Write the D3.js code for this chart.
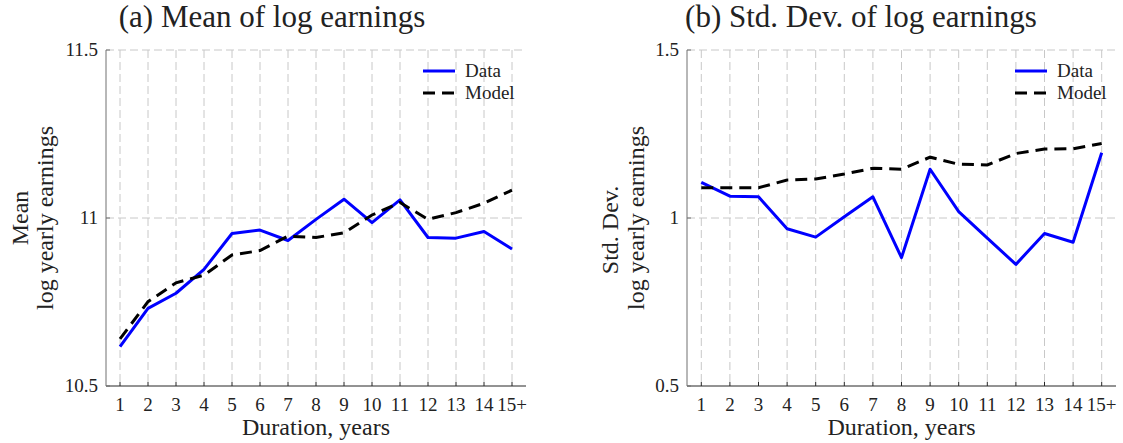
<!DOCTYPE html>
<html>
<head>
<meta charset="utf-8">
<script src="https://cdn.jsdelivr.net/npm/d3@7"></script>
<style>
  body { margin: 0; background: #fff; }
  svg { display: block; }
  svg text { font-family: "Liberation Serif", "Times New Roman", serif; fill: #222; }
  .grid line { stroke: #c8c8c8; stroke-width: 1; stroke-dasharray: 8,4; }
  .title { font-size: 31px; }
  .axis-label { font-size: 24px; }
  .tick-label { font-size: 19px; }
  .legend text { font-size: 19px; }
</style>
</head>
<body>
<div id="chart"></div>
<script>
// Duration categories (x axis)
const durations = ['1', '2', '3', '4', '5', '6', '7', '8', '9', '10', '11', '12', '13', '14', '15+'];

// Panel (a): mean of log earnings
const meanData  = [10.617, 10.731, 10.776, 10.847, 10.954, 10.964, 10.933, 10.996, 11.056, 10.986, 11.054, 10.942, 10.940, 10.960, 10.908];
const meanModel = [10.640, 10.751, 10.807, 10.830, 10.890, 10.903, 10.946, 10.942, 10.956, 11.009, 11.046, 10.996, 11.016, 11.044, 11.083];
const meanTicks = [10.5, 11, 11.5];

// Panel (b): std. dev. of log earnings
const sdData  = [1.106, 1.065, 1.063, 0.968, 0.943, 1.004, 1.063, 0.882, 1.145, 1.019, 0.940, 0.862, 0.954, 0.928, 1.194];
const sdModel = [1.090, 1.090, 1.090, 1.113, 1.116, 1.131, 1.148, 1.145, 1.181, 1.160, 1.158, 1.192, 1.205, 1.206, 1.222];
const sdTicks = [0.5, 1, 1.5];

const seriesNames = ['Data', 'Model'];

const CONFIG = {
  width: 1123,
  height: 443,
  top: 50,
  bottom: 386,
  tickLen: 4,
  lineWidth: 3,
  dash: '12,7',
  font: '"Liberation Serif", "Times New Roman", serif',
};

const svg = d3.select('#chart')
  .append('svg')
  .attr('width', CONFIG.width)
  .attr('height', CONFIG.height)
  .attr('font-family', CONFIG.font);

drawPanel({
  left: 106, right: 526,
  title: '(a) Mean of log earnings', titleX: 272,
  yLines: ['Mean', 'log yearly earnings'], yLabelX: [28, 53], yLabelY: [218, 218],
  domain: [10.5, 11.5], ticks: meanTicks, tickFormat: d3.format('~g'),
  data: meanData, model: meanModel,
  legendX: 423,
});

drawPanel({
  left: 687, right: 1116,
  title: '(b) Std. Dev. of log earnings', titleX: 861,
  yLines: ['Std. Dev.', 'log yearly earnings'], yLabelX: [618, 644], yLabelY: [230, 218],
  domain: [0.5, 1.5], ticks: sdTicks, tickFormat: d3.format('~g'),
  data: sdData, model: sdModel,
  legendX: 1015,
});

function drawPanel(p) {
  const g = svg.append('g');

  const x = d3.scalePoint()
    .domain(durations)
    .range([p.left, p.right])
    .padding(0.5);

  const y = d3.scaleLinear()
    .domain(p.domain)
    .range([CONFIG.bottom, CONFIG.top]);

  // Grid
  const grid = g.append('g').attr('class', 'grid');
  grid.selectAll('.vgrid')
    .data(durations)
    .join('line')
    .attr('x1', d => x(d)).attr('x2', d => x(d))
    .attr('y1', CONFIG.top).attr('y2', CONFIG.bottom);
  grid.selectAll('.hgrid')
    .data(p.ticks.slice(1))
    .join('line')
    .attr('x1', p.left).attr('x2', p.right)
    .attr('y1', d => y(d)).attr('y2', d => y(d));

  // Lines
  const line = d3.line()
    .x((d, i) => x(durations[i]))
    .y(d => y(d));

  g.append('path')
    .datum(p.data)
    .attr('fill', 'none')
    .attr('stroke', '#0000ff')
    .attr('stroke-width', CONFIG.lineWidth)
    .attr('stroke-linejoin', 'round')
    .attr('d', line);

  g.append('path')
    .datum(p.model)
    .attr('fill', 'none')
    .attr('stroke', '#000')
    .attr('stroke-width', CONFIG.lineWidth)
    .attr('stroke-dasharray', CONFIG.dash)
    .attr('d', line);

  // Axes (ticks pointing inward, MATLAB style)
  const xAxis = g.append('g');
  xAxis.append('line')
    .attr('x1', p.left).attr('x2', p.right)
    .attr('y1', CONFIG.bottom).attr('y2', CONFIG.bottom)
    .attr('stroke', '#262626');
  xAxis.selectAll('.xtick')
    .data(durations)
    .join('line')
    .attr('x1', d => x(d)).attr('x2', d => x(d))
    .attr('y1', CONFIG.bottom).attr('y2', CONFIG.bottom - CONFIG.tickLen)
    .attr('stroke', '#262626');
  xAxis.selectAll('.xlabel')
    .data(durations)
    .join('text')
    .attr('class', 'tick-label')
    .attr('x', d => x(d))
    .attr('y', 411)
    .attr('text-anchor', 'middle')
    .text(d => d);

  const yAxis = g.append('g');
  yAxis.append('line')
    .attr('x1', p.left).attr('x2', p.left)
    .attr('y1', CONFIG.top).attr('y2', CONFIG.bottom)
    .attr('stroke', '#707070');
  yAxis.selectAll('.ytick')
    .data(p.ticks)
    .join('line')
    .attr('x1', p.left).attr('x2', p.left + CONFIG.tickLen)
    .attr('y1', d => y(d)).attr('y2', d => y(d))
    .attr('stroke', '#707070');
  yAxis.selectAll('.ylabel')
    .data(p.ticks)
    .join('text')
    .attr('class', 'tick-label')
    .attr('x', p.left - 8)
    .attr('y', d => y(d))
    .attr('dy', '0.33em')
    .attr('text-anchor', 'end')
    .text(p.tickFormat);

  // Title and axis labels
  g.append('text')
    .attr('class', 'title')
    .attr('x', p.titleX)
    .attr('y', 27)
    .attr('text-anchor', 'middle')
    .text(p.title);

  g.append('text')
    .attr('class', 'axis-label')
    .attr('x', (p.left + p.right) / 2)
    .attr('y', 435)
    .attr('text-anchor', 'middle')
    .text('Duration, years');

  p.yLines.forEach((t, i) => {
    g.append('text')
      .attr('class', 'axis-label')
      .attr('transform', `translate(${p.yLabelX[i]}, ${p.yLabelY[i]}) rotate(-90)`)
      .attr('text-anchor', 'middle')
      .text(t);
  });

  // Legend
  const legend = g.append('g').attr('class', 'legend');
  seriesNames.forEach((name, i) => {
    const ly = 71 + i * 22;
    legend.append('line')
      .attr('x1', p.legendX).attr('x2', p.legendX + 32)
      .attr('y1', ly).attr('y2', ly)
      .attr('stroke', i === 0 ? '#0000ff' : '#000')
      .attr('stroke-width', CONFIG.lineWidth)
      .attr('stroke-dasharray', i === 0 ? null : CONFIG.dash);
    legend.append('text')
      .attr('x', p.legendX + 42)
      .attr('y', ly)
      .attr('dy', '0.33em')
      .text(name);
  });
}
</script>
</body>
</html>
